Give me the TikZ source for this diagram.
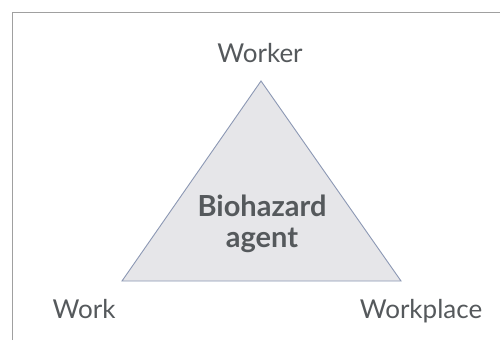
\documentclass[tikz,border=0pt]{standalone}
\usepackage{fontspec}
\setmainfont{Lato}
\definecolor{txtgray}{HTML}{55595C}
\definecolor{edgeblue}{HTML}{8C98B4}
\definecolor{fillgray}{HTML}{E6E6E9}
\definecolor{framegray}{HTML}{A0A0A0}
\tikzset{
  corner/.style={text=txtgray, font=\fontsize{26}{30}\selectfont, inner sep=0pt, anchor=base},
  agent/.style={text=txtgray, font=\bfseries\fontsize{29}{31}\selectfont, align=center, inner sep=0pt}
}

\begin{document}
\begin{tikzpicture}[x=1pt,y=-1pt]
        \useasboundingbox (0,0) rectangle (500,340);
        \fill[white] (0,0) rectangle (500,340);
        \draw[framegray, line width=0.8pt] (12,340) -- (12,12) -- (500,12);
        \coordinate (top) at (261,81);
        \coordinate (left) at (122,281);
        \coordinate (right) at (401,281);
        \draw[edgeblue, fill=fillgray, line width=0.9pt, line join=miter] (top) -- (right) -- (left) -- cycle;
        \node (worker) [corner] at (260,62) {Worker};
        \node (work) [corner] at (84,318) {Work};
        \node (workplace) [corner] at (421,318) {Workplace};
        \node (bio) [agent] at (262,224) {Biohazard\\agent};
\end{tikzpicture}
\end{document}
